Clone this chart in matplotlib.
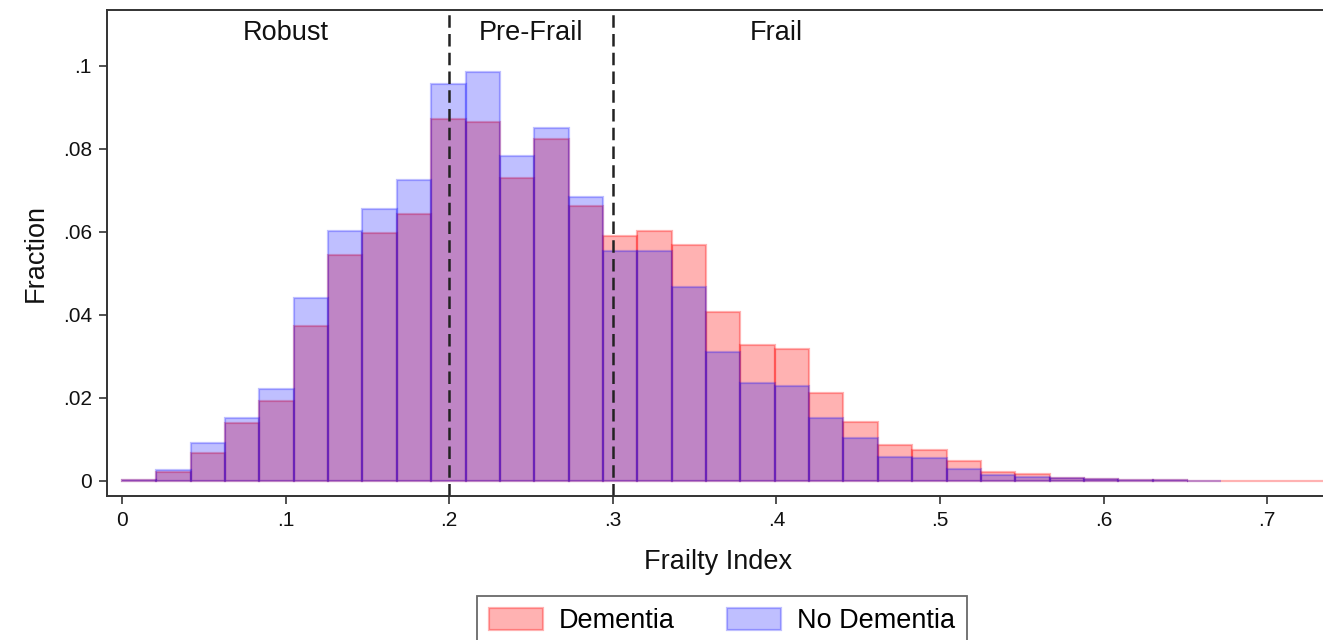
import matplotlib
matplotlib.use("Agg")
import matplotlib.pyplot as plt
import numpy as np

plt.rcParams['font.family'] = ['Liberation Sans', 'DejaVu Sans']

bin_width = 0.021
dementia = [0.0002, 0.0021, 0.0067, 0.0139, 0.0193, 0.0373, 0.0543, 0.0596, 0.0644,
            0.0872, 0.0865, 0.0729, 0.0823, 0.0663, 0.0589, 0.0602, 0.0569, 0.0406,
            0.0327, 0.0319, 0.0211, 0.0143, 0.0086, 0.0075, 0.0048, 0.0022, 0.0017,
            0.0008, 0.0004, 0.0003, 0.0002, 0.0001, 0.0001, 0.0001, 0.0001]
no_dementia = [0.0002, 0.0026, 0.0092, 0.0152, 0.0221, 0.0440, 0.0601, 0.0656, 0.0724,
               0.0956, 0.0986, 0.0782, 0.0849, 0.0683, 0.0555, 0.0555, 0.0466, 0.0311,
               0.0235, 0.0228, 0.0152, 0.0104, 0.0058, 0.0055, 0.0030, 0.0014, 0.0009,
               0.0008, 0.0004, 0.0002, 0.0002, 0.0001]
cutoffs = [0.2, 0.3]
zone_labels = ["Robust", "Pre-Frail", "Frail"]
zone_x = [0.1, 0.25, 0.4]
xticks = [0, 0.1, 0.2, 0.3, 0.4, 0.5, 0.6, 0.7]
xtick_labels = ["0", ".1", ".2", ".3", ".4", ".5", ".6", ".7"]
yticks = [0, 0.02, 0.04, 0.06, 0.08, 0.1]
ytick_labels = ["0", ".02", ".04", ".06", ".08", ".1"]

W, H = 1323, 640
fig = plt.figure(figsize=(W / 100, H / 100), dpi=100)
left, right, top, bottom = 107, 1330, 9.5, 495.7
ax = fig.add_axes([left / W, (H - bottom) / H, (right - left) / W, (bottom - top) / H])

edges_d = np.arange(len(dementia)) * bin_width
edges_n = np.arange(len(no_dementia)) * bin_width
ax.bar(edges_d, dementia, width=bin_width, align='edge', facecolor='red',
       edgecolor='red', alpha=0.30, linewidth=1.6, label='Dementia')
ax.bar(edges_n, no_dementia, width=bin_width, align='edge', facecolor='blue',
       edgecolor='blue', alpha=0.25, linewidth=1.6, label='No Dementia')

for c in cutoffs:
    ax.axvline(c, color='#222222', lw=1.8, linestyle=(0, (5, 2.5)))

for lab, xx in zip(zone_labels, zone_x):
    ax.text(xx, 0.1079, lab, ha='center', va='center', fontsize=19.5, color='#111111')

ax.set_xlim((left - 122) / 1636, (right - 122) / 1636)
ax.set_ylim((481 - bottom) / 4153, (481 - top) / 4153)
ax.set_xticks(xticks)
ax.set_xticklabels(xtick_labels)
ax.set_yticks(yticks)
ax.set_yticklabels(ytick_labels)
ax.tick_params(axis='both', direction='out', length=5.8, width=1.1, colors='#222222',
               labelsize=15, pad=5, labelcolor='#111111')
for s in ax.spines.values():
    s.set_linewidth(1.4)
    s.set_color('#333333')
ax.set_xlabel("Frailty Index", fontsize=19.5, labelpad=14, color='#111111')
ax.set_ylabel("Fraction", fontsize=19.5, labelpad=10, color='#111111')

leg = fig.legend(loc='upper center', bbox_to_anchor=(722 / W, 1 - 596 / H), ncol=2,
                 fontsize=19.5, frameon=True, fancybox=False, handlelength=2.0,
                 handleheight=0.85, handletextpad=0.6, columnspacing=1.9,
                 borderpad=0.45, borderaxespad=0)
leg.get_frame().set_edgecolor('#444444')
leg.get_frame().set_linewidth(1.3)

fig.savefig("out.png", dpi=100)
